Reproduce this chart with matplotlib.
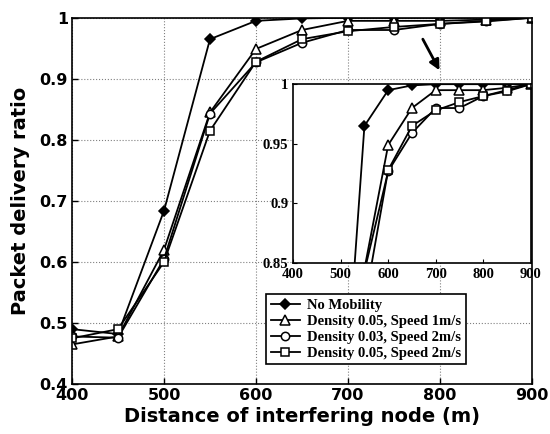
import numpy as np
import matplotlib
matplotlib.use("Agg")
import matplotlib.pyplot as plt

distance = [400, 450, 500, 550, 600, 650, 700, 750, 800, 850, 900]
no_mobility = [0.49, 0.482, 0.684, 0.965, 0.995, 0.999, 1.0, 1.0, 1.0, 1.0, 1.0]
d05_s1 = [0.465, 0.478, 0.62, 0.845, 0.949, 0.98, 0.995, 0.995, 0.995, 0.997, 1.0]
d03_s2 = [0.478, 0.476, 0.605, 0.843, 0.927, 0.959, 0.98, 0.98, 0.99, 0.995, 1.0]
d05_s2 = [0.475, 0.49, 0.60, 0.815, 0.928, 0.965, 0.978, 0.985, 0.99, 0.994, 1.0]

labels = ["No Mobility", "Density 0.05, Speed 1m/s",
          "Density 0.03, Speed 2m/s", "Density 0.05, Speed 2m/s"]
series = [no_mobility, d05_s1, d03_s2, d05_s2]
styles = [dict(marker='D', mfc='black', ms=5),
          dict(marker='^', mfc='white', ms=6.5),
          dict(marker='o', mfc='white', ms=6),
          dict(marker='s', mfc='white', ms=5.5)]

fig = plt.figure(figsize=(5.5, 4.34), dpi=100)
ax = fig.add_axes([0.131, 0.115, 0.836, 0.844])

lines = []
for y, lab, st in zip(series, labels, styles):
    l, = ax.plot(distance, y, color='black', lw=1.3, mec='black', mew=1.1, label=lab, **st)
    lines.append(l)

ax.set_xlim(400, 900)
ax.set_ylim(0.4, 1.0)
ax.set_xticks([400, 500, 600, 700, 800, 900])
ax.set_yticks([0.4, 0.5, 0.6, 0.7, 0.8, 0.9, 1.0])
ax.set_yticklabels(["0.4", "0.5", "0.6", "0.7", "0.8", "0.9", "1"])
ax.tick_params(direction='in', labelsize=11.5, width=1, length=4, pad=3)
for t in ax.get_xticklabels() + ax.get_yticklabels():
    t.set_fontweight('bold')
ax.grid(True, linestyle=':', color='gray', lw=0.8)
for s in ax.spines.values():
    s.set_linewidth(1.2)
ax.set_xlabel("Distance of interfering node (m)", fontsize=14, fontweight='bold', labelpad=3)
ax.set_ylabel("Packet delivery ratio", fontsize=14, fontweight='bold', labelpad=7)

ax.annotate("", xy=(801, 0.91), xytext=(780, 0.969),
            arrowprops=dict(arrowstyle='-|>', color='black', lw=2, mutation_scale=15))

# zoomed inset
ins = fig.add_axes([0.533, 0.394, 0.432, 0.412])
for y, st in zip(series, styles):
    ins.plot(distance, y, color='black', lw=1.3, mec='black', mew=1.1, **st)
ins.set_xlim(400, 900)
ins.set_ylim(0.85, 1.0)
ins.set_xticks([400, 500, 600, 700, 800, 900])
ins.set_yticks([0.85, 0.9, 0.95, 1.0])
ins.set_yticklabels(["0.85", "0.9", "0.95", "1"])
ins.tick_params(direction='in', labelsize=10.5, length=3)
for t in ins.get_xticklabels() + ins.get_yticklabels():
    t.set_fontfamily('Liberation Serif')
    t.set_fontweight('bold')
for s in ins.spines.values():
    s.set_linewidth(1.2)

leg = ax.legend(handles=lines, loc='upper left', bbox_to_anchor=(0.471, 0.339),
                bbox_transform=fig.transFigure, fancybox=False, framealpha=1,
                edgecolor='black', handlelength=2.0, borderpad=0.3, labelspacing=0.2,
                handletextpad=0.5, prop=dict(family='Liberation Serif', weight='bold', size=10.5))
leg.get_frame().set_linewidth(1.2)
leg.set_zorder(10)

fig.savefig("out.png", dpi=100)
